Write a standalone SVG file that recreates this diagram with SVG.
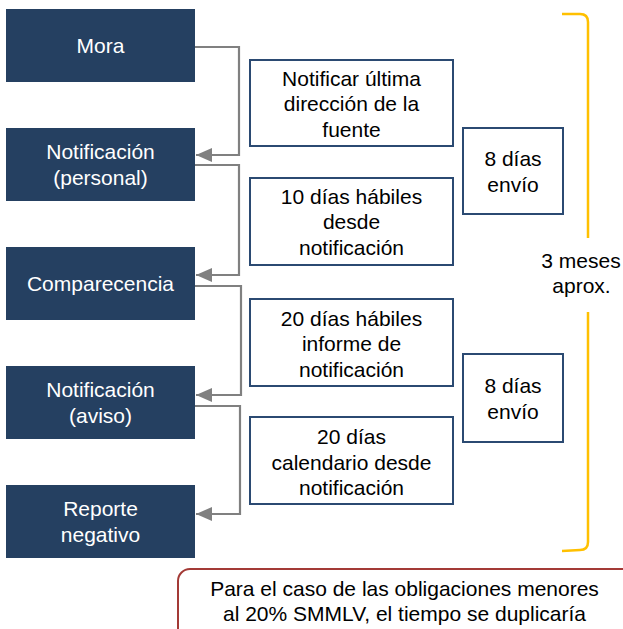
<svg xmlns="http://www.w3.org/2000/svg" width="623" height="629" viewBox="0 0 623 629">
<style>
text{font-family:"Liberation Sans",Arial,sans-serif;font-size:21px;text-anchor:middle}
.dark rect{fill:#254061}
.dark text{fill:#ffffff}
.wb rect{fill:#ffffff;stroke:#2b4a72;stroke-width:2}
.wb text{fill:#000000}
.conn path{fill:none;stroke:#808080;stroke-width:2.2}
</style>
<defs>
<marker id="ah" markerWidth="16" markerHeight="14" refX="16" refY="7" orient="auto" markerUnits="userSpaceOnUse">
<path d="M0,0 L16,7 L0,14 Z" fill="#808080"/>
</marker>
</defs>
<rect width="623" height="629" fill="#ffffff"/>
<g class="conn" id="connectors">
<path d="M195,47 H239 V155 H196" marker-end="url(#ah)"/>
<path d="M195,165 H239 V275 H196" marker-end="url(#ah)"/>
<path d="M195,286 H241 V395 H196" marker-end="url(#ah)"/>
<path d="M195,406 H240 V514 H196" marker-end="url(#ah)"/>
</g>
<g class="dark" id="mora"><rect x="6" y="9" width="189" height="73"/><text x="100.5" y="53">Mora</text></g>
<g class="dark" id="notif-personal"><rect x="6" y="128" width="189" height="73"/><text x="100.5" y="159">Notificación</text><text x="100.5" y="185">(personal)</text></g>
<g class="dark" id="comparecencia"><rect x="6" y="247" width="189" height="73"/><text x="100.5" y="291">Comparecencia</text></g>
<g class="dark" id="notif-aviso"><rect x="6" y="366" width="189" height="73"/><text x="100.5" y="397">Notificación</text><text x="100.5" y="423">(aviso)</text></g>
<g class="dark" id="reporte"><rect x="6" y="485" width="189" height="73"/><text x="100.5" y="516">Reporte</text><text x="100.5" y="542">negativo</text></g>
<g class="wb" id="box1"><rect x="250" y="60" width="203" height="86"/><text x="351.5" y="86">Notificar última</text><text x="351.5" y="111">dirección de la</text><text x="351.5" y="137">fuente</text></g>
<g class="wb" id="box2"><rect x="250" y="178" width="203" height="87"/><text x="351.5" y="204">10 días hábiles</text><text x="351.5" y="229">desde</text><text x="351.5" y="255">notificación</text></g>
<g class="wb" id="box3"><rect x="250" y="299" width="203" height="87"/><text x="351.5" y="326">20 días hábiles</text><text x="351.5" y="351">informe de</text><text x="351.5" y="377">notificación</text></g>
<g class="wb" id="box4"><rect x="250" y="417" width="203" height="87"/><text x="351.5" y="444">20 días</text><text x="351.5" y="469.5">calendario desde</text><text x="351.5" y="495">notificación</text></g>
<g class="wb" id="envio1"><rect x="463" y="128" width="100" height="86"/><text x="513" y="166">8 días</text><text x="513" y="192">envío</text></g>
<g class="wb" id="envio2"><rect x="463" y="354" width="100" height="88"/><text x="513" y="393">8 días</text><text x="513" y="419">envío</text></g>
<g id="bracket">
<path d="M562,14 L580,14 Q588,14 588,22 V238 M588,312 V542 Q588,550 580,550 L562,551" fill="none" stroke="#ffc000" stroke-width="2.5"/>
<text x="581" y="268">3 meses</text><text x="581.5" y="293">aprox.</text>
</g>
<g id="nota">
<rect x="178" y="569" width="470" height="80" rx="12" fill="#ffffff" stroke="#a33a36" stroke-width="2"/>
<text x="404.5" y="596">Para el caso de las obligaciones menores</text>
<text x="404.5" y="621">al 20% SMMLV, el tiempo se duplicaría</text>
</g>
</svg>
